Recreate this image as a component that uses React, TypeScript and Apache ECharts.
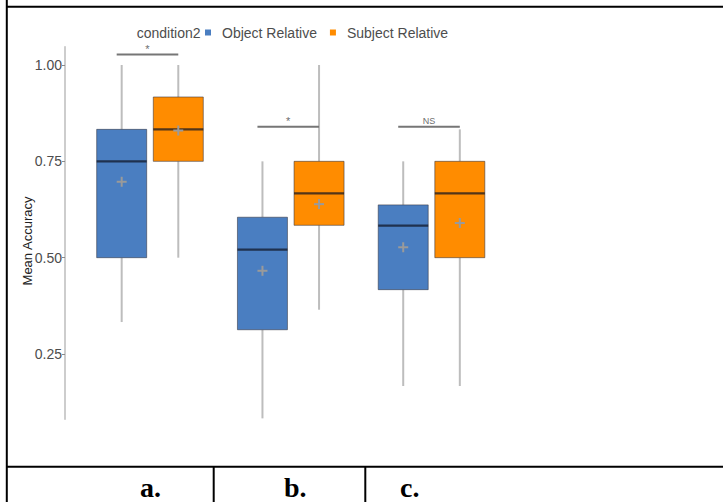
import React, { useEffect, useRef } from "react";
import * as echarts from "echarts";

const categories = ["a", "b", "c"];
const seriesNames = ["Object Relative", "Subject Relative"];
// [min, q1, median, q3, max]
const objectBox = [
  [0.333, 0.5, 0.75, 0.833, 1.0],
  [0.083, 0.313, 0.521, 0.605, 0.75],
  [0.167, 0.417, 0.583, 0.637, 0.75],
];
const subjectBox = [
  [0.5, 0.75, 0.833, 0.917, 1.0],
  [0.365, 0.584, 0.667, 0.75, 1.0],
  [0.167, 0.5, 0.667, 0.75, 0.833],
];
const objectMean = [0.697, 0.466, 0.527];
const subjectMean = [0.83, 0.639, 0.59];
const sigY = [1.027, 0.84, 0.84];
const sigLabels = ["*", "*", "NS"];
const yTicks = [0.25, 0.5, 0.75, 1.0];
const panelLabels = ["a.", "b.", "c."];
const legendTitle = "condition2";
const yTitle = "Mean Accuracy";

const SANS = "Liberation Sans, Arial, sans-serif";
const BLUE = "#4a7ec1";
const ORANGE = "#ff8c00";

function makeBoxRender(offset: number, fill: string) {
  return (params: any, api: any) => {
    const cat = api.value(0);
    const cx = api.coord([cat, 0])[0] + offset;
    const y = (i: number) => api.coord([cat, api.value(i)])[1];
    const yMin = y(1), yQ1 = y(2), yMed = y(3), yQ3 = y(4), yMax = y(5), yMean = y(6);
    const hw = 25;
    const whisker = { stroke: "#bdbdbd", lineWidth: 2 };
    return {
      type: "group",
      children: [
        { type: "line", shape: { x1: cx, y1: yMax, x2: cx, y2: yQ3 }, style: whisker },
        { type: "line", shape: { x1: cx, y1: yQ1, x2: cx, y2: yMin }, style: whisker },
        {
          type: "rect",
          shape: { x: cx - hw, y: yQ3, width: 2 * hw, height: yQ1 - yQ3 },
          style: { fill, stroke: "rgba(50,50,60,0.55)", lineWidth: 1 },
        },
        {
          type: "line",
          shape: { x1: cx - hw, y1: yMed, x2: cx + hw, y2: yMed },
          style: { stroke: "rgba(15,20,35,0.72)", lineWidth: 2.2 },
        },
        {
          type: "line",
          shape: { x1: cx - 5, y1: yMean, x2: cx + 5, y2: yMean },
          style: { stroke: "#9a9a9a", lineWidth: 2 },
        },
        {
          type: "line",
          shape: { x1: cx, y1: yMean - 5, x2: cx, y2: yMean + 5 },
          style: { stroke: "#9a9a9a", lineWidth: 2 },
        },
      ],
    };
  };
}

function sigRender(params: any, api: any) {
  const cat = api.value(0);
  const p = api.coord([cat, api.value(1)]);
  const label = sigLabels[params.dataIndex];
  const x1 = p[0] - 33.3;
  const x2 = p[0] + 28.3;
  return {
    type: "group",
    children: [
      {
        type: "line",
        shape: { x1, y1: p[1], x2, y2: p[1] },
        style: { stroke: "#767676", lineWidth: 2 },
      },
      {
        type: "text",
        x: (x1 + x2) / 2,
        y: p[1] - 6,
        style: {
          text: label,
          fill: "#6e6e6e",
          font: `${label === "*" ? 11 : 9}px ${SANS}`,
          align: "center",
          verticalAlign: "middle",
        },
      },
    ],
  };
}

export default function App() {
  const ref = useRef<HTMLDivElement>(null);
  useEffect(() => {
    if (!ref.current) return;
    const chart = echarts.init(ref.current, null, { renderer: "svg" });
    const border = { stroke: "#000", lineWidth: 2 };
    const option: any = {
      animation: false,
      backgroundColor: "#fff",
      grid: { left: 79.6, right: 221.1, top: 46.7, bottom: 82.7 },
      legend: {
        data: seriesNames,
        left: 200,
        top: 20.5,
        icon: "rect",
        itemWidth: 6,
        itemHeight: 6,
        itemGap: 13,
        textStyle: { fontFamily: SANS, fontSize: 14, color: "#4d4d4d", padding: [0, 0, 0, 6] },
      },
      xAxis: { type: "category", data: categories, show: false },
      yAxis: {
        type: "value",
        min: 0.0806,
        max: 1.0475,
        offset: 14.6,
        axisLine: { show: true, lineStyle: { color: "#bdbdbd", width: 1.5 } },
        axisTick: { show: true, length: 3, customValues: yTicks, lineStyle: { color: "#8a8a8a" } },
        axisLabel: {
          customValues: yTicks,
          formatter: (v: number) => v.toFixed(2),
          fontSize: 14,
          fontFamily: SANS,
          color: "#4d4d4d",
          margin: 3,
        },
        splitLine: { show: false },
      },
      series: [
        {
          type: "custom",
          name: seriesNames[0],
          itemStyle: { color: BLUE },
          encode: { x: 0, y: [1, 2, 3, 4, 5, 6] },
          data: objectBox.map((b, i) => [i, ...b, objectMean[i]]),
          renderItem: makeBoxRender(-28.3, BLUE),
        },
        {
          type: "custom",
          name: seriesNames[1],
          itemStyle: { color: ORANGE },
          encode: { x: 0, y: [1, 2, 3, 4, 5, 6] },
          data: subjectBox.map((b, i) => [i, ...b, subjectMean[i]]),
          renderItem: makeBoxRender(28.3, ORANGE),
        },
        {
          type: "custom",
          name: "significance",
          encode: { x: 0, y: 1 },
          data: sigY.map((v, i) => [i, v]),
          renderItem: sigRender,
        },
      ],
      graphic: [
        { type: "line", shape: { x1: 6.8, y1: 0, x2: 6.8, y2: 502 }, style: border },
        { type: "line", shape: { x1: 6, y1: 6.7, x2: 723, y2: 6.7 }, style: border },
        { type: "line", shape: { x1: 6, y1: 466.8, x2: 723, y2: 466.8 }, style: border },
        { type: "line", shape: { x1: 213.7, y1: 466, x2: 213.7, y2: 502 }, style: border },
        { type: "line", shape: { x1: 365.3, y1: 466, x2: 365.3, y2: 502 }, style: border },
        {
          type: "text",
          x: 27,
          y: 241,
          rotation: Math.PI / 2,
          style: {
            text: yTitle,
            font: `13px ${SANS}`,
            fill: "#222",
            align: "center",
            verticalAlign: "middle",
          },
        },
        {
          type: "text",
          x: 200.5,
          y: 32.7,
          style: {
            text: legendTitle,
            font: `14px ${SANS}`,
            fill: "#4d4d4d",
            align: "right",
            verticalAlign: "middle",
          },
        },
        ...panelLabels.map((t, i) => ({
          type: "text",
          x: [140, 284, 400][i],
          y: 487,
          style: {
            text: t,
            font: `bold 28px "Liberation Serif", "Times New Roman", serif`,
            fill: "#000",
            align: "left",
            verticalAlign: "middle",
          },
        })),
      ],
    };
    chart.setOption(option);
    return () => chart.dispose();
  }, []);
  return (
    <div
      ref={ref}
      style={{ position: "fixed", left: 0, top: 0, width: 723, height: 502, background: "#fff" }}
    />
  );
}
